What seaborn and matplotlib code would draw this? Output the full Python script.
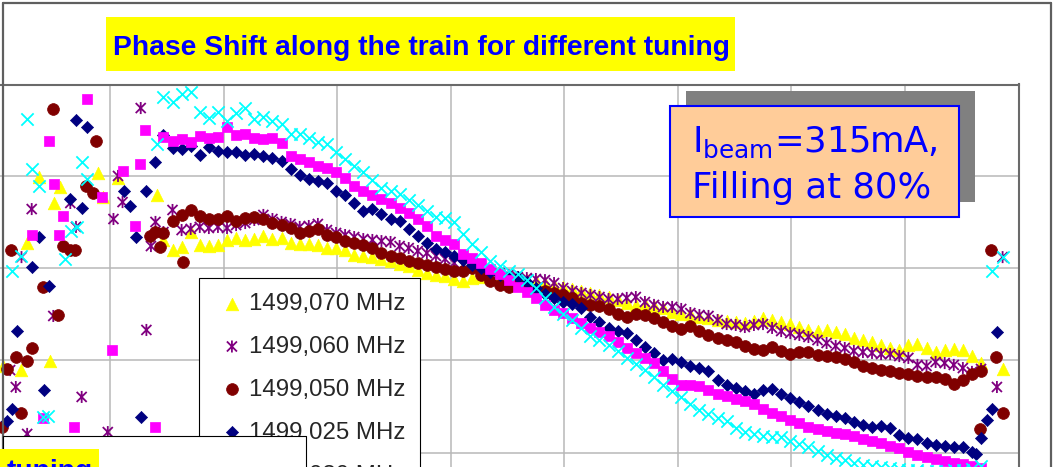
import numpy as np
import pandas as pd
import matplotlib
matplotlib.use("Agg")
import matplotlib.pyplot as plt
from matplotlib.path import Path
from matplotlib.markers import MarkerStyle
from matplotlib.patches import Rectangle
from matplotlib.lines import Line2D
import seaborn as sns

# ---------------------------------------------------------------- data
title = "Phase Shift along the train for different tuning"
tunings = ["1499,070 MHz", "1499,060 MHz", "1499,050 MHz",
           "1499,025 MHz", "1499,030 MHz", "1499,000 MHz"]

# regularly sampled bunches along the train (shared by all tunings)
bunch = np.arange(147, 868, 8)

phase_070 = [1.55, 1.01, 1.17, 1.98, 1.28, 1.22, 1.28, 1.55, 1.66, 1.55,
             1.60, 1.77, 1.60, 1.66, 1.39, 1.33, 1.33, 1.28, 1.11, 1.11,
             1.01, 0.73, 0.68, 0.63, 0.52, 0.41, 0.24, 0.14, -0.08, -0.24,
             -0.35, -0.41, -0.57, -0.68, -0.52, -0.46, -0.41, -0.41, -0.46, -0.52,
             -0.63, -0.68, -0.79, -0.90, -1.01, -1.11, -1.22, -1.33, -1.44, -1.55,
             -1.71, -1.88, -1.98, -1.93, -2.04, -2.15, -2.36, -2.47, -2.47, -2.64,
             -2.69, -2.80, -2.85, -2.91, -2.96, -2.85, -2.69, -2.80, -2.91, -3.02,
             -3.18, -3.34, -3.40, -3.34, -3.45, -3.56, -3.78, -3.89, -3.99, -4.16,
             -4.32, -4.43, -4.16, -4.10, -4.32, -4.54, -4.43, -4.38, -4.43, -4.76,
             -5.14]
phase_060 = [1.98, 3.18, 2.09, 2.15, 2.26, 2.20, 2.26, 2.20, 2.36, 2.47,
             2.64, 2.91, 2.69, 2.53, 2.42, 2.26, 2.31, 2.42, 2.09, 1.93,
             1.82, 1.71, 1.60, 1.55, 1.49, 1.44, 1.22, 1.11, 0.95, 0.84,
             0.68, 0.52, 0.30, 0.19, 0.08, -0.03, -0.14, -0.24, -0.35, -0.46,
             -0.52, -0.57, -0.63, -0.79, -1.06, -1.22, -1.33, -1.44, -1.55, -1.66,
             -1.66, -1.60, -1.55, -1.82, -1.98, -2.09, -2.09, -2.20, -2.42, -2.53,
             -2.58, -2.80, -3.02, -3.07, -3.18, -3.07, -3.02, -3.23, -3.40, -3.51,
             -3.61, -3.72, -3.89, -4.05, -4.21, -4.32, -4.48, -4.54, -4.59, -4.65,
             -4.65, -4.76, -4.86, -5.24, -5.30, -5.08, -5.14, -5.24, -5.41, -5.62,
             -5.46]
phase_050 = [1.93, 2.58, 2.91, 3.18, 2.85, 2.69, 2.69, 2.85, 2.58, 2.74,
             2.80, 2.69, 2.47, 2.36, 2.20, 1.93, 2.04, 2.15, 1.82, 1.71,
             1.49, 1.39, 1.28, 1.11, 0.84, 0.68, 0.57, 0.41, 0.30, 0.19,
             0.08, -0.03, -0.14, -0.14, 0.03, -0.35, -0.68, -0.90, -1.01, -0.84,
             -1.06, -1.17, -1.22, -1.33, -1.44, -1.60, -1.88, -1.98, -2.04, -2.20,
             -2.47, -2.64, -2.47, -2.53, -2.69, -2.91, -3.13, -3.29, -3.13, -3.40,
             -3.61, -3.78, -3.89, -3.99, -4.21, -4.38, -4.43, -4.27, -4.48, -4.65,
             -4.54, -4.54, -4.70, -4.76, -4.81, -4.92, -5.08, -5.30, -5.41, -5.52,
             -5.57, -5.68, -5.73, -5.84, -5.90, -5.90, -6.01, -6.28, -6.06, -5.73,
             -5.57]
phase_025 = [7.26, 6.55, 6.49, 6.66, 6.17, 6.60, 6.39, 6.33, 6.33, 6.17,
             6.22, 6.11, 6.01, 5.84, 5.41, 5.08, 4.86, 4.76, 4.65, 4.21,
             3.99, 3.56, 3.13, 3.23, 2.96, 2.69, 2.58, 2.15, 1.77, 1.39,
             1.06, 0.90, 0.68, 0.46, 0.19, 0.03, -0.19, -0.35, -0.41, -0.46,
             -0.73, -1.06, -1.39, -1.60, -1.82, -1.93, -2.15, -2.64, -2.91, -3.23,
             -3.40, -3.51, -3.89, -4.27, -4.59, -4.97, -4.92, -5.08, -5.30, -5.41,
             -5.57, -6.06, -6.33, -6.49, -6.66, -6.82, -6.60, -6.55, -6.82, -7.04,
             -7.26, -7.47, -7.69, -7.91, -8.02, -8.13, -8.34, -8.51, -8.61, -8.56,
             -8.67, -9.05, -9.21, -9.27, -9.48, -9.59, -9.65, -9.70, -9.70, -9.97,
             -9.21]
phase_030 = [7.15, 6.93, 7.04, 6.88, 7.20, 7.09, 7.15, 7.69, 7.26, 7.31,
             7.09, 7.04, 7.09, 6.82, 6.11, 5.95, 5.79, 5.57, 5.46, 5.24,
             4.92, 4.48, 4.21, 3.99, 3.78, 3.56, 3.29, 3.02, 2.69, 2.31,
             1.77, 1.55, 1.33, 0.79, 0.57, 0.30, -0.03, -0.30, -0.63, -1.01,
             -1.28, -1.60, -1.98, -2.26, -2.42, -2.69, -2.96, -3.23, -3.45, -3.67,
             -3.99, -4.32, -4.59, -4.86, -5.14, -5.57, -6.01, -6.33, -6.33, -6.39,
             -6.60, -6.82, -6.93, -7.09, -7.20, -7.36, -7.64, -7.85, -8.02, -8.23,
             -8.40, -8.61, -8.72, -8.83, -8.94, -9.00, -9.10, -9.27, -9.38, -9.48,
             -9.65, -9.76, -9.97, -10.14, -10.24, -10.35, -10.46, -10.57, -10.62, -10.73,
             -10.84]
phase_000 = [9.32, 9.05, 9.48, 9.59, 8.51, 8.18, 8.51, 8.02, 8.45, 8.72,
             8.13, 8.23, 8.02, 7.85, 7.31, 7.31, 7.09, 6.88, 6.77, 6.33,
             5.95, 5.57, 5.24, 4.81, 4.38, 4.21, 4.05, 3.72, 3.45, 3.13,
             2.80, 2.74, 2.53, 1.87, 1.33, 0.90, 0.41, 0.14, -0.14, -0.30,
             -0.63, -1.06, -1.60, -2.09, -2.47, -2.80, -3.23, -3.67, -3.89, -4.16,
             -4.48, -4.86, -5.19, -5.52, -5.90, -6.33, -6.66, -6.98, -7.36, -7.69,
             -7.91, -8.13, -8.29, -8.67, -8.89, -9.00, -9.10, -9.16, -9.16, -9.38,
             -9.54, -9.70, -9.92, -10.14, -10.30, -10.41, -10.57, -10.68, -10.73, -10.79,
             -10.84, -10.90, -10.95, -10.95, -11.01, -11.01, -11.01, -10.95, -10.95, -10.90,
             -10.73]

# first bunches of the train (transient) and last bunches
edge_bunch_070 = [6, 22, 27, 37, 47, 51, 56, 89, 94, 107, 141, 886]
edge_phase_070 = [-5.30, -5.52, 1.39, 4.97, -5.03, 3.56, 4.43, 5.19, 3.89, 4.92, 3.99, -5.46]

edge_bunch_060 = [12, 17, 22, 27, 31, 50, 65, 70, 75, 98, 103, 107, 111, 127, 132, 136, 140, 881, 886]
edge_phase_060 = [-5.52, -6.44, 0.62, -8.99, 3.23, -2.58, 3.56, 2.26, -6.98, -8.89, 2.69,
                  5.03, 3.61, 8.72, -3.34, 1.22, 2.53, -6.44, 0.62]

edge_bunch_050 = [5, 9, 13, 17, 22, 27, 31, 41, 50, 54, 59, 65, 69, 79, 85, 88,
                  135, 140, 144, 164, 866, 876, 880, 886]
edge_phase_050 = [-8.61, -5.46, 1.01, -4.81, -7.85, -5.03, -4.32, -1.01, 8.67, -2.53,
                  1.22, 1.01, 1.01, 4.48, 4.10, 6.93, 1.77, 1.98, 1.17, 0.35,
                  -8.72, 1.01, -4.81, -7.85]

edge_bunch_025 = [9, 14, 18, 31, 37, 42, 46, 65, 70, 75, 80, 112, 118, 123, 127, 132, 140,
                  863, 872, 877, 881]
edge_phase_025 = [-8.29, -7.64, -3.40, 0.08, 1.71, -6.60, -0.95, 3.78, 8.07, 3.29, 7.69,
                  4.21, 3.40, 1.71, -8.07, 4.21, 5.79, -10.08, -8.23, -7.64, -3.45]

edge_bunch_030 = [31, 41, 46, 51, 55, 59, 68, 80, 93, 102, 111, 122, 126, 131, 140]
edge_phase_030 = [1.82, -8.13, 6.93, 4.59, 1.82, 2.85, -8.61, 9.21, 3.89, -4.43, 5.30,
                  2.31, 5.68, 7.53, -8.61]

edge_bunch_000 = [14, 22, 27, 31, 37, 41, 45, 60, 66, 71, 75, 80, 141, 877, 886]
edge_phase_000 = [-0.14, 0.68, 8.13, 5.41, 4.48, -8.07, -8.02, 0.52, 2.04, 2.26, 5.79,
                  4.86, 6.77, -0.14, 0.62]

body = [phase_070, phase_060, phase_050, phase_025, phase_030, phase_000]
edge_b = [edge_bunch_070, edge_bunch_060, edge_bunch_050, edge_bunch_025, edge_bunch_030, edge_bunch_000]
edge_p = [edge_phase_070, edge_phase_060, edge_phase_050, edge_phase_025, edge_phase_030, edge_phase_000]

frames = []
for name, ph, eb, ep in zip(tunings, body, edge_b, edge_p):
    frames.append(pd.DataFrame({"bunch": np.concatenate([eb, bunch]),
                                "phase": np.concatenate([ep, ph]),
                                "tuning": name}))
df = pd.concat(frames, ignore_index=True)

# ---------------------------------------------------------------- styling
W, H = 1056, 467
sns.set_style("white")
plt.rcParams["font.family"] = ["Liberation Sans", "DejaVu Sans"]
plt.rcParams["mathtext.fontset"] = "dejavusans"

# Excel-like asterisk: an X crossed by a vertical bar
star_path = Path([(-1, -1), (1, 1), (-1, 1), (1, -1), (0, -1.2), (0, 1.2)],
                 [Path.MOVETO, Path.LINETO, Path.MOVETO, Path.LINETO, Path.MOVETO, Path.LINETO])
star = MarkerStyle(star_path, fillstyle="none")

styles = {
    "1499,070 MHz": dict(color="#ffff00", marker="^", s=82, filled=True, lw=0.5),
    "1499,060 MHz": dict(color="#800080", marker=star, s=75, filled=False, lw=1.3),
    "1499,050 MHz": dict(color="#800000", marker="o", s=72, filled=True, lw=0.5),
    "1499,025 MHz": dict(color="#000080", marker="D", s=38, filled=True, lw=0.5),
    "1499,030 MHz": dict(color="#ff00ff", marker="s", s=58, filled=True, lw=0.5),
    "1499,000 MHz": dict(color="#00ffff", marker="x", s=78, filled=False, lw=1.3),
}


def fx(px):
    return px / W


def fy(py):
    return 1 - py / H


fig = plt.figure(figsize=(W / 100, H / 100), dpi=100)
fig.patch.set_facecolor("white")

ax = fig.add_axes([fx(-3.5), fy(544.5), 1022 / W, 460 / H])
for name in tunings:
    st = styles[name]
    kws = dict(color=st["color"], marker=st["marker"], s=st["s"], linewidth=st["lw"])
    if st["filled"]:
        kws["edgecolor"] = st["color"]
    sns.scatterplot(data=df[df["tuning"] == name], x="bunch", y="phase",
                    ax=ax, label=name, **kws)

ax.set_xlim(0, 900)
ax.set_ylim(-15, 10)
ax.set_xticks(range(0, 901, 100))
ax.set_yticks(range(-15, 11, 5))
ax.grid(True, color="#b8b8b8", linewidth=1.1)
ax.set_axisbelow(True)
ax.tick_params(length=0, labelleft=False, labelbottom=False)
ax.set_xlabel("")
ax.set_ylabel("")
for side in ("left", "bottom"):
    ax.spines[side].set_visible(False)
for side in ("top", "right"):
    ax.spines[side].set_color("#6a6a6a")
    ax.spines[side].set_linewidth(1.5)

leg = ax.legend(loc="upper left", bbox_to_anchor=(fx(199), fy(278)),
                bbox_transform=fig.transFigure, borderaxespad=0,
                frameon=True, fancybox=False, framealpha=1, edgecolor="black",
                prop=dict(family="Liberation Sans", size=17.3),
                borderpad=0.62, handlelength=1.5, handletextpad=-0.05,
                labelspacing=0.87, scatterpoints=1)
leg.get_frame().set_linewidth(0.8)

# ---------------------------------------------------------------- annotations


def rect(x0, y0, x1, y1, **kw):
    fig.add_artist(Rectangle((fx(x0), fy(y1)), (x1 - x0) / W, (y1 - y0) / H,
                             transform=fig.transFigure, **kw))


# chart frame
for xs, ys in (([3, 3], [3, 470]), ([3, 1051], [3, 3]), ([1051, 1051], [3, 470])):
    fig.add_artist(Line2D([fx(v) for v in xs], [fy(v) for v in ys],
                          transform=fig.transFigure, color="#5f5f5f",
                          linewidth=1.6, zorder=8))

# title
rect(106, 17, 735, 71, facecolor="#ffff00", edgecolor="none", zorder=5)
fig.text(fx(113), fy(55), title, color="#0000ff", fontsize=20.3,
         fontweight="bold", family="Liberation Sans", va="baseline", ha="left", zorder=6)

# beam current note with drop shadow
rect(686, 91, 975, 202, facecolor="#808080", edgecolor="none", zorder=5)
rect(670, 106, 959, 217, facecolor="#ffcc99", edgecolor="#0000ff", linewidth=1.5, zorder=6)
fig.text(fx(692), fy(152), r"I$_{\mathrm{beam}}$=315mA,", color="#0000ff",
         fontsize=25.5, family="DejaVu Sans", va="baseline", ha="left", zorder=7)
fig.text(fx(692), fy(198), "Filling at 80%", color="#0000ff",
         fontsize=25.5, family="DejaVu Sans", va="baseline", ha="left", zorder=7)

# neighbouring chart below
rect(3, 436, 306, 520, facecolor="white", edgecolor="black", linewidth=0.8, zorder=9)
rect(0, 449, 99, 520, facecolor="#ffff00", edgecolor="none", zorder=10)
fig.text(fx(7), fy(479), "tuning", color="#0000ff", fontsize=20.3,
         fontweight="bold", family="Liberation Sans", va="baseline", ha="left", zorder=11)

fig.savefig("out.png", dpi=100)
